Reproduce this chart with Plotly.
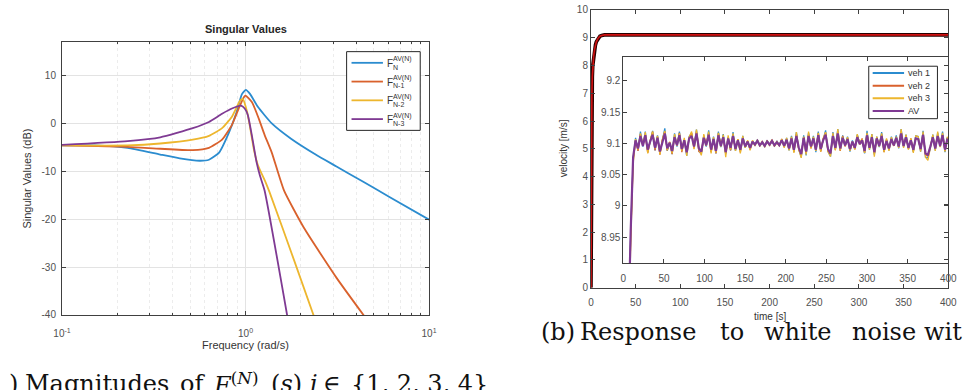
import plotly.graph_objects as go

# ---------------- Left: singular values (frequency in rad/s, magnitude in dB) ----------------
w_blue = [0.1, 0.151, 0.228, 0.343, 0.438, 0.561, 0.632, 0.718, 0.811, 0.888, 0.956, 1.004,
          1.06, 1.17, 1.39, 1.77, 2.41, 3.13, 4.38, 6.05, 10.0]
db_blue = [-4.6, -4.6, -5.1, -6.5, -7.3, -7.8, -7.6, -6.1, -2.0, 2.0, 6.1, 7.0,
           6.1, 3.4, 0.0, -3.2, -6.5, -9.0, -12.2, -15.3, -20.1]

w_orange = [0.1, 0.228, 0.343, 0.516, 0.632, 0.745, 0.843, 0.918, 0.977, 1.0, 1.085, 1.17,
            1.27, 1.39, 1.62, 2.08, 3.14, 4.45]
db_orange = [-4.6, -4.9, -5.3, -5.6, -5.1, -3.4, -0.3, 3.1, 5.4, 5.8, 4.4, 1.4,
             -2.4, -6.1, -14.0, -21.8, -32.3, -40.3]

w_yellow = [0.1, 0.228, 0.343, 0.516, 0.632, 0.745, 0.843, 0.936, 0.965, 1.02, 1.065, 1.115,
            1.17, 1.29, 1.35, 1.84, 2.36]
db_yellow = [-4.6, -4.6, -4.2, -3.4, -2.6, -1.0, 1.4, 4.8, 5.1, 2.4, -1.4, -5.8,
             -8.8, -12.4, -14.3, -28.6, -40.3]

w_purple = [0.1, 0.228, 0.343, 0.516, 0.632, 0.745, 0.843, 0.944, 0.99, 1.03, 1.085, 1.15,
            1.2, 1.27, 1.69]
db_purple = [-4.5, -3.7, -2.9, -1.0, 0.3, 2.0, 3.1, 3.7, 3.1, 1.7, -2.7, -8.2,
             -11.0, -14.0, -40.3]

sv_subs = ["N", "N-1", "N-2", "N-3"]
sv_sup = "AV(N)"

# ---------------- Right: velocity response ----------------
t_main = [0, 0.3, 0.6, 1, 1.5, 2, 3, 4, 5, 6, 8, 10, 12, 15, 20, 50, 100, 150, 200, 250,
          300, 350, 370, 375, 380, 400]
v_main = [0, 3.5, 6.0, 7.0, 7.6, 8.0, 8.35, 8.58, 8.74, 8.85, 8.98, 9.05, 9.08, 9.1, 9.1,
          9.1, 9.1, 9.1, 9.1, 9.1, 9.1, 9.1, 9.1, 9.08, 9.1, 9.1]

# inset samples, every 3 s starting at t = 0
veh1 = [7.850, 8.420, 8.790, 8.955, 9.075,
        9.109, 9.089, 9.119, 9.095, 9.119, 9.087, 9.103, 9.120, 9.089, 9.113, 9.085, 9.105, 9.124, 9.088, 9.101, 9.083,
        9.116, 9.095, 9.119, 9.088, 9.105, 9.080, 9.111, 9.116, 9.095, 9.122, 9.088, 9.083, 9.113, 9.095, 9.121, 9.087,
        9.111, 9.084, 9.119, 9.094, 9.115, 9.083, 9.110, 9.089, 9.118, 9.088, 9.106, 9.088, 9.112, 9.093, 9.103, 9.092,
        9.104, 9.098, 9.106, 9.096, 9.102, 9.095, 9.105, 9.097, 9.104, 9.096, 9.104, 9.097, 9.106, 9.095, 9.109, 9.089,
        9.112, 9.087, 9.118, 9.090, 9.078, 9.113, 9.081, 9.117, 9.093, 9.112, 9.086, 9.119, 9.088, 9.106, 9.121, 9.087,
        9.079, 9.118, 9.090, 9.123, 9.089, 9.113, 9.096, 9.111, 9.087, 9.105, 9.091, 9.114, 9.100, 9.106, 9.084, 9.120,
        9.090, 9.115, 9.082, 9.111, 9.094, 9.118, 9.087, 9.106, 9.089, 9.111, 9.096, 9.113, 9.092, 9.123, 9.095, 9.114,
        9.092, 9.106, 9.087, 9.112, 9.111, 9.087, 9.120, 9.078, 9.077, 9.093, 9.114, 9.089, 9.117, 9.095, 9.119, 9.086,
        9.110]
veh2 = [7.800, 8.400, 8.770, 8.950, 9.072,
        9.105, 9.088, 9.115, 9.096, 9.114, 9.085, 9.104, 9.119, 9.089, 9.111, 9.082, 9.106, 9.119, 9.089, 9.102, 9.083,
        9.110, 9.097, 9.117, 9.086, 9.106, 9.085, 9.109, 9.117, 9.092, 9.119, 9.087, 9.085, 9.111, 9.098, 9.116, 9.086,
        9.107, 9.084, 9.116, 9.097, 9.110, 9.084, 9.109, 9.089, 9.114, 9.091, 9.107, 9.086, 9.109, 9.095, 9.104, 9.090,
        9.103, 9.098, 9.104, 9.097, 9.102, 9.096, 9.103, 9.098, 9.106, 9.096, 9.101, 9.096, 9.107, 9.096, 9.106, 9.090,
        9.108, 9.087, 9.115, 9.090, 9.082, 9.110, 9.085, 9.114, 9.092, 9.109, 9.089, 9.116, 9.087, 9.107, 9.117, 9.087,
        9.083, 9.113, 9.090, 9.119, 9.088, 9.112, 9.095, 9.109, 9.089, 9.102, 9.091, 9.112, 9.100, 9.108, 9.085, 9.115,
        9.093, 9.110, 9.084, 9.109, 9.096, 9.114, 9.086, 9.106, 9.091, 9.107, 9.096, 9.109, 9.095, 9.119, 9.096, 9.110,
        9.091, 9.108, 9.087, 9.108, 9.107, 9.090, 9.115, 9.082, 9.080, 9.095, 9.111, 9.092, 9.113, 9.096, 9.114, 9.088,
        9.109]
veh3 = [7.700, 8.350, 8.750, 8.940, 9.068,
        9.107, 9.090, 9.116, 9.096, 9.118, 9.084, 9.105, 9.119, 9.092, 9.112, 9.082, 9.107, 9.120, 9.089, 9.103, 9.084,
        9.115, 9.096, 9.116, 9.088, 9.109, 9.080, 9.110, 9.119, 9.091, 9.122, 9.090, 9.081, 9.115, 9.096, 9.119, 9.084,
        9.110, 9.085, 9.117, 9.095, 9.114, 9.078, 9.113, 9.090, 9.116, 9.088, 9.107, 9.084, 9.112, 9.093, 9.105, 9.089,
        9.105, 9.096, 9.106, 9.095, 9.104, 9.094, 9.105, 9.096, 9.106, 9.095, 9.104, 9.096, 9.107, 9.093, 9.109, 9.089,
        9.111, 9.085, 9.118, 9.090, 9.077, 9.111, 9.082, 9.119, 9.092, 9.111, 9.088, 9.117, 9.087, 9.108, 9.118, 9.087,
        9.079, 9.117, 9.089, 9.123, 9.089, 9.111, 9.097, 9.110, 9.088, 9.103, 9.090, 9.115, 9.098, 9.107, 9.085, 9.117,
        9.090, 9.115, 9.079, 9.111, 9.095, 9.116, 9.086, 9.108, 9.088, 9.110, 9.097, 9.111, 9.093, 9.123, 9.093, 9.114,
        9.090, 9.108, 9.085, 9.112, 9.111, 9.087, 9.119, 9.078, 9.073, 9.094, 9.114, 9.088, 9.119, 9.094, 9.117, 9.087,
        9.111]
av = [7.900, 8.450, 8.800, 8.960, 9.078,
      9.105, 9.092, 9.112, 9.096, 9.113, 9.090, 9.103, 9.114, 9.093, 9.109, 9.087, 9.104, 9.116, 9.092, 9.101, 9.088,
      9.110, 9.097, 9.113, 9.091, 9.105, 9.086, 9.108, 9.112, 9.095, 9.116, 9.092, 9.087, 9.109, 9.097, 9.114, 9.090,
      9.107, 9.088, 9.113, 9.096, 9.110, 9.086, 9.108, 9.093, 9.112, 9.091, 9.105, 9.090, 9.108, 9.095, 9.103, 9.093,
      9.103, 9.098, 9.104, 9.097, 9.102, 9.096, 9.103, 9.098, 9.104, 9.097, 9.102, 9.097, 9.105, 9.096, 9.106, 9.092,
      9.108, 9.090, 9.112, 9.093, 9.083, 9.109, 9.087, 9.112, 9.095, 9.108, 9.090, 9.113, 9.091, 9.105, 9.114, 9.091,
      9.084, 9.112, 9.093, 9.116, 9.092, 9.109, 9.097, 9.107, 9.091, 9.103, 9.093, 9.110, 9.099, 9.105, 9.088, 9.113,
      9.093, 9.110, 9.086, 9.108, 9.096, 9.112, 9.090, 9.104, 9.092, 9.107, 9.097, 9.109, 9.095, 9.116, 9.096, 9.110,
      9.093, 9.105, 9.090, 9.108, 9.107, 9.091, 9.114, 9.084, 9.082, 9.095, 9.110, 9.092, 9.112, 9.096, 9.113, 9.090,
      9.108]
veh_names = ["veh 1", "veh 2", "veh 3", "AV"]

C_BLUE, C_ORANGE, C_YELLOW, C_PURPLE = "#2b8ccf", "#d9612c", "#edb62e", "#7f3a93"
SV_COLORS = [C_BLUE, C_ORANGE, C_YELLOW, C_PURPLE]

W, H = 970, 390
def px(x):
    return x / W
def py(y):
    return (H - y) / H

fig = go.Figure()

for w, db, col in zip([w_blue, w_orange, w_yellow, w_purple],
                      [db_blue, db_orange, db_yellow, db_purple], SV_COLORS):
    fig.add_trace(go.Scatter(x=w, y=db, mode="lines", xaxis="x", yaxis="y", showlegend=False,
                             line=dict(color=col, width=1.8, shape="spline", smoothing=0.5)))

fig.add_trace(go.Scatter(x=t_main, y=v_main, mode="lines", xaxis="x2", yaxis="y2",
                         line=dict(color="#2a0000", width=3.6), showlegend=False))
fig.add_trace(go.Scatter(x=t_main, y=v_main, mode="lines", xaxis="x2", yaxis="y2",
                         line=dict(color="#d01010", width=1.6), showlegend=False))

for series, col, lw in zip([veh1, veh2, veh3, av], SV_COLORS, [1.3, 1.3, 1.3, 2.2]):
    t = list(range(0, 3 * len(series), 3))
    fig.add_trace(go.Scatter(x=t, y=series, mode="lines", xaxis="x3", yaxis="y3",
                             line=dict(color=col, width=lw), showlegend=False))

AX = "#404040"
SANS = "Liberation Sans, Arial, sans-serif"
SERIF = "DejaVu Serif, serif"
TICKF = dict(family=SANS, size=10, color="#505050")
common = dict(showline=True, linecolor=AX, linewidth=1, mirror="ticks", ticks="inside",
              ticklen=4, tickcolor=AX, tickfont=TICKF, zeroline=False, ticklabeloverflow="allow")

fig.update_layout(
    width=W, height=H, margin=dict(l=0, r=0, t=0, b=0),
    paper_bgcolor="white", plot_bgcolor="rgba(0,0,0,0)",
    xaxis=dict(type="log", range=[-1, 1], domain=[px(54), px(428)], anchor="y",
               tickvals=[0.1, 1, 10],
               ticktext=["10<sup>-1</sup>", "10<sup>0</sup>", "10<sup>1</sup>"],
               ticklabelstandoff=9,
               showgrid=True, gridcolor="#e3e3e3", gridwidth=1,
               minor=dict(tickvals=[0.2, 0.3, 0.4, 0.5, 0.6, 0.7, 0.8, 0.9,
                                    2, 3, 4, 5, 6, 7, 8, 9],
                          ticks="inside", ticklen=2, tickcolor=AX, showgrid=True,
                          gridcolor="#ececec", griddash="dot"),
               **common),
    yaxis=dict(range=[-40, 17], domain=[py(319), py(38)], anchor="x",
               tickvals=[-40, -30, -20, -10, 0, 10],
               ticktext=["-40", "-30", "-20", "-10", "0", "10"],
               ticklabelstandoff=3,
               showgrid=True, gridcolor="#e3e3e3", **common),
    xaxis2=dict(range=[0, 400], domain=[px(593), px(957)], anchor="y2",
                tickvals=list(range(0, 401, 50)), showgrid=False, ticklabelstandoff=5, **common),
    yaxis2=dict(range=[0, 10], domain=[py(291), py(5)], anchor="x2",
                tickvals=list(range(0, 11)), showgrid=False, **common),
    xaxis3=dict(range=[0, 400], domain=[px(626), px(957)], anchor="y3",
                tickvals=list(range(0, 401, 50)), showgrid=False, ticklabelstandoff=6, **common),
    yaxis3=dict(range=[8.908, 9.239], domain=[py(266), py(53)], anchor="x3",
                tickvals=[8.95, 9.0, 9.05, 9.1, 9.15, 9.2],
                ticktext=["8.95", "9", "9.05", "9.1", "9.15", "9.2"], showgrid=False,
                **common),
)

shapes = []
anns = []

# ---- legend of the singular value plot (drawn by hand so the sub/superscripts stack) ----
shapes.append(dict(type="rect", xref="paper", yref="paper", x0=px(344), x1=px(419),
                   y0=py(129), y1=py(48), line=dict(color="#262626", width=1),
                   fillcolor="white", layer="above"))
for i, (sub, col) in enumerate(zip(sv_subs, SV_COLORS)):
    yc = 59.5 + i * 19.3
    shapes.append(dict(type="line", xref="paper", yref="paper", x0=px(349), x1=px(381),
                       y0=py(yc), y1=py(yc), line=dict(color=col, width=1.8), layer="above"))
    anns.append(dict(text="F", x=px(383), y=py(yc + 0.5), xanchor="left", yanchor="middle",
                     font=dict(family=SANS, size=10, color="#333")))
    anns.append(dict(text=sv_sup, x=px(389), y=py(yc - 3.5), xanchor="left", yanchor="middle",
                     font=dict(family=SANS, size=7, color="#333")))
    anns.append(dict(text=sub, x=px(389), y=py(yc + 4.5), xanchor="left", yanchor="middle",
                     font=dict(family=SANS, size=7, color="#333")))

# ---- legend of the inset ----
shapes.append(dict(type="rect", xref="paper", yref="paper", x0=px(876), x1=px(946),
                   y0=py(117), y1=py(63), line=dict(color="#262626", width=1),
                   fillcolor="white", layer="above"))
for i, (nm, col) in enumerate(zip(veh_names, SV_COLORS)):
    yc = 70 + i * 13
    shapes.append(dict(type="line", xref="paper", yref="paper", x0=px(880), x1=px(912),
                       y0=py(yc), y1=py(yc), line=dict(color=col, width=2.0), layer="above"))
    anns.append(dict(text=nm, x=px(914), y=py(yc), xanchor="left", yanchor="middle",
                     font=dict(family=SANS, size=9, color="#333")))

# ---- titles ----
anns += [
    dict(text="<b>Singular Values</b>", x=px(241), y=py(25), font=dict(family=SANS, size=11, color="#262626")),
    dict(text="Frequency (rad/s)", x=px(241), y=py(350), font=dict(family=SANS, size=11, color="#333")),
    dict(text="Singular Values (dB)", x=px(18), y=py(179), textangle=-90,
         font=dict(family=SANS, size=11, color="#333")),
    dict(text="velocity [m/s]", x=px(565), y=py(148), textangle=-90,
         font=dict(family=SANS, size=10, color="#333")),
    dict(text="time [s]", x=px(775), y=py(321), font=dict(family=SANS, size=10, color="#333")),
]

# ---- captions ----
for word, xl in [("(b)", 540), ("Response", 580), ("to", 722), ("white", 767),
                 ("noise", 857), ("wit", 930)]:
    anns.append(dict(text=word, x=px(xl), y=py(336), xanchor="left", yanchor="middle",
                     font=dict(family=SERIF, size=24, color="#111")))
for word, xl in [(")", -2), ("Magnitudes", 14), ("of", 172),
                 ("<i>F</i><sup>(<i>N</i>)</sup>", 206),
                 ("(<i>s</i>)", 265), ("<i>i</i>", 305), ("∈", 318), ("{1, 2, 3, 4}", 346)]:
    anns.append(dict(text=word, x=px(xl), y=py(390), xanchor="left", yanchor="middle",
                     font=dict(family=SERIF, size=24, color="#111")))

for a in anns:
    a.setdefault("xanchor", "center")
    a.setdefault("yanchor", "middle")
    fig.add_annotation(xref="paper", yref="paper", showarrow=False, **a)

fig.update_layout(shapes=shapes)
fig.write_html("out.html")
